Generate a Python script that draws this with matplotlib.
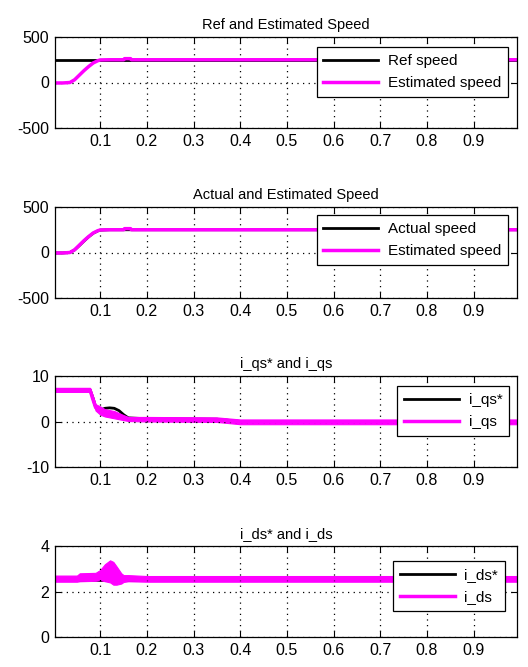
import numpy as np
import matplotlib
matplotlib.use("Agg")
import matplotlib.pyplot as plt

plt.rcParams['font.family'] = ['Liberation Sans Narrow', 'Liberation Sans', 'DejaVu Sans']

# ---- speed panels (rpm) ----
t_ref = [0.003, 0.993]
ref_speed = [250, 250]

t_spd = [0.003, 0.02, 0.035, 0.045, 0.055, 0.065, 0.075, 0.085, 0.095, 0.1,
         0.12, 0.15, 0.152, 0.165, 0.167, 0.993]
est_speed = [-5, -5, 0, 30, 80, 130, 175, 215, 240, 248,
             250, 250, 262, 262, 250, 250]

t_act = [0.003, 0.02, 0.035, 0.045, 0.055, 0.065, 0.075, 0.085, 0.095, 0.1,
         0.12, 0.993]
act_speed = [-5, -5, 0, 28, 75, 125, 172, 212, 238, 246, 250, 250]

# ---- q-axis current ----
t_iqs_ref = [0.003, 0.078, 0.085, 0.09, 0.1, 0.105, 0.11, 0.12, 0.13, 0.14,
             0.15, 0.16, 0.2, 0.35, 0.4, 0.993]
iqs_ref = [7.0, 7.0, 5.0, 3.2, 2.6, 2.7, 2.9, 3.0, 2.9, 2.4,
           1.5, 0.8, 0.6, 0.5, 0.0, 0.0]

t_iqs = [0.003, 0.078, 0.083, 0.09, 0.1, 0.11, 0.13, 0.15, 0.16, 0.2, 0.35, 0.4, 0.993]
iqs_hi = [7.4, 7.4, 6.0, 3.8, 3.3, 2.7, 2.3, 1.4, 1.0, 1.0, 0.9, 0.45, 0.45]
iqs_lo = [6.5, 6.5, 4.5, 2.4, 1.5, 1.1, 0.7, 0.3, 0.1, 0.0, -0.1, -0.6, -0.6]

# ---- d-axis current ----
t_ids_ref = [0.003, 0.993]
ids_ref = [2.5, 2.5]

t_ids = [0.003, 0.05, 0.056, 0.09, 0.1, 0.11, 0.121, 0.128, 0.135, 0.145,
         0.15, 0.16, 0.2, 0.993]
ids_hi = [2.70, 2.70, 2.80, 2.82, 2.95, 3.2, 3.37, 3.3, 3.1, 2.8,
          2.72, 2.72, 2.68, 2.68]
ids_lo = [2.43, 2.43, 2.45, 2.47, 2.5, 2.45, 2.4, 2.3, 2.3, 2.35,
          2.42, 2.45, 2.43, 2.43]

xticks = [0.1, 0.2, 0.3, 0.4, 0.5, 0.6, 0.7, 0.8, 0.9]
xlim = (0.003, 0.993)

MAG = '#ff00ff'

fig = plt.figure(figsize=(5.28, 6.67), dpi=100)
left, width, height = 55 / 528, 462 / 528, 91 / 667
bottoms = [1 - 128 / 667, 1 - 298 / 667, 1 - 467 / 667, 1 - 637 / 667]
axes = [fig.add_axes([left, b, width, height]) for b in bottoms]


def style(ax, title, ylim, yticks):
    ax.set_xlim(*xlim)
    ax.set_ylim(*ylim)
    ax.set_xticks(xticks)
    ax.set_xticklabels([f"{v:g}" for v in xticks])
    ax.set_yticks(yticks)
    ax.set_yticklabels([f"{v:g}" for v in yticks])
    ax.tick_params(direction='in', top=True, right=True, length=4,
                   labelsize=11.5, pad=4, width=0.8)
    ax.grid(True, linestyle=(0, (1, 3.5)), color='black', linewidth=0.9)
    for s in ax.spines.values():
        s.set_linewidth(0.9)
    ax.set_title(title, fontsize=10.5, pad=6)


def legend(ax, anchor):
    leg = ax.legend(loc='upper right', bbox_to_anchor=anchor, borderaxespad=0,
                    fontsize=11, handlelength=3.6, handletextpad=0.6,
                    labelspacing=0.55, borderpad=0.45, fancybox=False,
                    framealpha=1, edgecolor='black')
    leg.get_frame().set_linewidth(0.9)


ax = axes[0]
ax.plot(t_ref, ref_speed, color='black', lw=2, label='Ref speed')
ax.plot(t_spd, est_speed, color=MAG, lw=2.5, label='Estimated speed')
style(ax, 'Ref and Estimated Speed', (-500, 500), [-500, 0, 500])
legend(ax, (0.98, 0.89))

ax = axes[1]
ax.plot(t_act, act_speed, color='black', lw=2, label='Actual speed')
ax.plot(t_spd, est_speed, color=MAG, lw=2.5, label='Estimated speed')
style(ax, 'Actual and Estimated Speed', (-500, 500), [-500, 0, 500])
legend(ax, (0.98, 0.91))

ax = axes[2]
ax.plot(t_iqs_ref, iqs_ref, color='black', lw=2, label='i_qs*', zorder=1.4)
ax.fill_between(t_iqs, iqs_lo, iqs_hi, color=MAG, lw=0.8, zorder=1.5)
ax.plot(t_iqs, (np.array(iqs_hi) + np.array(iqs_lo)) / 2, color=MAG, lw=2.5,
        label='i_qs', zorder=1.6)
style(ax, 'i_qs* and i_qs', (-10, 10), [-10, 0, 10])
legend(ax, (0.983, 0.89))

ax = axes[3]
ax.plot(t_ids_ref, ids_ref, color='black', lw=2, label='i_ds*', zorder=1.4)
ax.fill_between(t_ids, ids_lo, ids_hi, color=MAG, lw=0.8, zorder=1.5)
ax.plot(t_ids, (np.array(ids_hi) + np.array(ids_lo)) / 2, color=MAG, lw=2.5,
        label='i_ds', zorder=1.6)
style(ax, 'i_ds* and i_ds', (0, 4), [0, 2, 4])
legend(ax, (0.974, 0.835))

fig.savefig('out.png', dpi=100)
